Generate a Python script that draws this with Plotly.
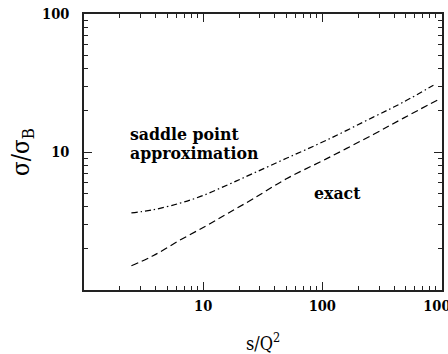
import plotly.graph_objects as go

# Data
x_exact = [2.5, 3.8, 6.4, 10.7, 16.2, 26.3, 50, 109, 268, 480, 944]
y_exact = [1.50, 1.77, 2.30, 2.93, 3.60, 4.58, 6.40, 8.95, 13.4, 17.6, 24.0]
x_saddle = [2.5, 3.8, 6.4, 10, 16.2, 26.3, 50, 109, 268, 480, 857]
y_saddle = [3.62, 3.81, 4.26, 4.84, 5.8, 7.0, 9.0, 12.2, 17.9, 23.0, 30.5]

x_major = [10, 100, 1000]
x_major_text = ["10", "100", "1000"]
y_major = [10, 100]
y_major_text = ["10", "100"]
x_minor = [m * d for d in (1, 10, 100) for m in range(2, 10)]
y_minor = [m * d for d in (1, 10) for m in range(2, 10)]

FONT = "'DejaVu Serif Condensed', 'DejaVu Serif', serif"

fig = go.Figure()
fig.add_trace(go.Scatter(x=x_saddle, y=y_saddle, mode="lines", line_shape="spline",
                         line=dict(color="black", width=1.2, dash="6px,3px,1.5px,3px"),
                         showlegend=False))
fig.add_trace(go.Scatter(x=x_exact, y=y_exact, mode="lines", line_shape="spline",
                         line=dict(color="black", width=1.2, dash="7px,4px"),
                         showlegend=False))

axis_common = dict(
    showgrid=False, zeroline=False, showline=True, linecolor="#222", linewidth=1.5,
    mirror="ticks", ticks="inside", ticklen=8, tickwidth=1.2, tickcolor="#222",
    tickfont=dict(family=FONT, size=14.5, color="black", weight="bold"),
    ticklabeloverflow="allow", automargin=False,
)

fig.update_xaxes(type="log", range=[0, 3.005], tickmode="array",
                 tickvals=x_major, ticktext=x_major_text,
                 minor=dict(tickmode="array", tickvals=x_minor, ticks="inside",
                            ticklen=4, tickwidth=1, tickcolor="#222", showgrid=False),
                 ticklabelstandoff=2,
                 **axis_common)
fig.update_yaxes(type="log", range=[0, 2], tickmode="array",
                 tickvals=y_major, ticktext=y_major_text,
                 minor=dict(tickmode="array", tickvals=y_minor, ticks="inside",
                            ticklen=4, tickwidth=1, tickcolor="#222", showgrid=False),
                 ticklabelstandoff=10,
                 **axis_common)

lbl_font = dict(family=FONT, size=17.5, color="black", weight="bold")
fig.add_annotation(text="saddle point", xref="paper", yref="paper", x=0.123, y=0.61,
                   xanchor="left", yanchor="top", showarrow=False, font=lbl_font)
fig.add_annotation(text="approximation", xref="paper", yref="paper", x=0.123, y=0.54,
                   xanchor="left", yanchor="top", showarrow=False, font=lbl_font)
fig.add_annotation(text="exact", xref="paper", yref="paper", x=0.637, y=0.351,
                   xanchor="left", yanchor="middle", showarrow=False, font=lbl_font)

fig.add_annotation(text="σ/σ<sub>B</sub>", xref="paper", yref="paper", x=0, y=0.5,
                   xshift=-62, xanchor="center", yanchor="middle", textangle=-90,
                   showarrow=False, font=dict(family=FONT, size=24, color="black"))
fig.add_annotation(text="s/Q<sup>2</sup>", xref="paper", yref="paper", x=0.5, y=0,
                   yshift=-52, xanchor="center", yanchor="middle",
                   showarrow=False, font=dict(family=FONT, size=18, color="black"))

fig.update_layout(width=448, height=354, margin=dict(l=84, r=6, t=14, b=64),
                  paper_bgcolor="white", plot_bgcolor="white",
                  font=dict(family=FONT))

fig.write_html("out.html", config={"displayModeBar": False},
               post_script="document.body.style.margin='0';document.body.style.overflow='hidden';")
